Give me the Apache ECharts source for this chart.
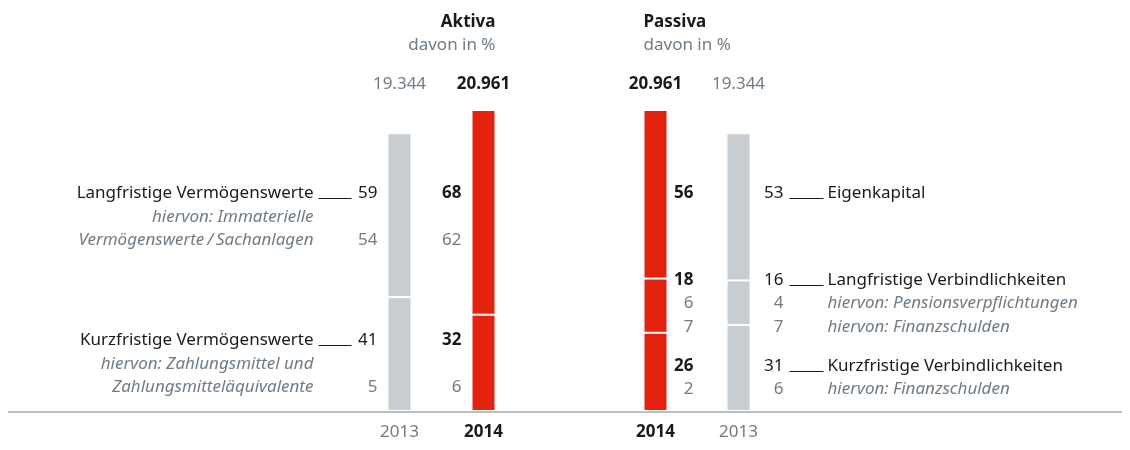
<!DOCTYPE html>
<html>
<head>
<meta charset="utf-8">
<script src="https://cdn.jsdelivr.net/npm/echarts@6.0.0/dist/echarts.min.js"></script>
<style>
  html, body { margin: 0; background: #fff; }
  #chart { width: 1130px; height: 450px; }
</style>
</head>
<body>
<div id="chart"></div>
<script>
// --- Daten (Mio. €, Anteile in %) ---
const aktivaYears = ['2013', '2014']
const aktivaTotals = [19344, 20961]
const aktivaLangfristig = [59, 68]
const aktivaImmateriell = [54, 62]
const aktivaKurzfristig = [41, 32]
const aktivaZahlungsmittel = [5, 6]

const passivaYears = ['2014', '2013']
const passivaTotals = [20961, 19344]
const passivaEigenkapital = [56, 53]
const passivaLangfristig = [18, 16]
const passivaPension = [6, 4]
const passivaFinanzLang = [7, 7]
const passivaKurzfristig = [26, 31]
const passivaFinanzKurz = [2, 6]

// Farben / Schrift
const RED = '#e3230f'
const GREY = '#c8cdd1'
const DARK = '#1a1a1a'
const MUTED = '#6f7c86'
const FONT = '"Noto Sans", sans-serif'
const FS = 17

const fmt = v => String(v).replace(/\B(?=(\d{3})+(?!\d))/g, '.')
const share = (totals, pct) => totals.map((t, i) => t * pct[i] / 100)
const isCurrent = y => y === '2014'

function axesFor(gridIndex, years, totals) {
  return [
    {
      type: 'category', gridIndex,
      data: years.map(y => ({
        value: y,
        textStyle: { color: isCurrent(y) ? DARK : MUTED, fontWeight: isCurrent(y) ? 'bold' : 'normal' },
      })),
      axisLine: { show: false }, axisTick: { show: false },
      axisLabel: { fontSize: FS, fontFamily: FONT, margin: 13 },
    },
    {
      type: 'category', gridIndex, position: 'top',
      data: totals.map((t, i) => ({
        value: fmt(t),
        textStyle: { color: isCurrent(years[i]) ? DARK : MUTED, fontWeight: isCurrent(years[i]) ? 'bold' : 'normal' },
      })),
      axisLine: { show: false }, axisTick: { show: false },
      axisLabel: { fontSize: FS, fontFamily: FONT, margin: 17 },
    },
  ]
}

function barSeries(name, axisIndex, years, totals, pct, stack) {
  return {
    name, type: 'bar', stack,
    xAxisIndex: axisIndex, yAxisIndex: axisIndex / 2,
    barWidth: 24,
    data: share(totals, pct).map((v, i) => ({
      value: v,
      itemStyle: { color: isCurrent(years[i]) ? RED : GREY },
    })),
    itemStyle: { borderColor: '#fff', borderWidth: 1 },
    silent: true,
  }
}

const chart = echarts.init(document.getElementById('chart'), null, { renderer: 'canvas' })

chart.setOption({
  animation: false,
  grid: [
    { left: 357.5, width: 168, top: 110, bottom: 39 },
    { left: 614, width: 166, top: 110, bottom: 39 },
  ],
  xAxis: [...axesFor(0, aktivaYears, aktivaTotals), ...axesFor(1, passivaYears, passivaTotals)],
  yAxis: [
    { type: 'value', gridIndex: 0, min: 0, max: 20961, show: false },
    { type: 'value', gridIndex: 1, min: 0, max: 20961, show: false },
  ],
  series: [
    barSeries('Kurzfristige Vermögenswerte', 0, aktivaYears, aktivaTotals, aktivaKurzfristig, 'aktiva'),
    barSeries('Langfristige Vermögenswerte', 0, aktivaYears, aktivaTotals, aktivaLangfristig, 'aktiva'),
    barSeries('Kurzfristige Verbindlichkeiten', 2, passivaYears, passivaTotals, passivaKurzfristig, 'passiva'),
    barSeries('Langfristige Verbindlichkeiten', 2, passivaYears, passivaTotals, passivaLangfristig, 'passiva'),
    barSeries('Eigenkapital', 2, passivaYears, passivaTotals, passivaEigenkapital, 'passiva'),
  ],
})

// --- Beschriftungen neben den Säulen ---
const text = (x, y, str, opts) => ({
  type: 'text', x, y, silent: true,
  style: {
    text: str,
    font: `${opts.italic ? 'italic ' : ''}${opts.bold ? 'bold ' : ''}${FS}px ${FONT}`,
    fill: opts.color || DARK,
    align: opts.align || 'left', textAlign: opts.align || 'left',
    verticalAlign: 'middle', textVerticalAlign: 'middle',
  },
})
const connector = (x1, x2, y) => ({
  type: 'line', silent: true,
  shape: { x1, y1: y, x2, y2: y },
  style: { stroke: DARK, lineWidth: 1 },
})

const colX = (axisIndex, year) => chart.convertToPixel({ xAxisIndex: axisIndex }, year)

const aktivaRows = [
  { y: 193, values: aktivaLangfristig, main: true },
  { y: 240, values: aktivaImmateriell },
  { y: 340, values: aktivaKurzfristig, main: true },
  { y: 387, values: aktivaZahlungsmittel },
]
const passivaRows = [
  { y: 193, values: passivaEigenkapital, main: true },
  { y: 280, values: passivaLangfristig, main: true },
  { y: 303, values: passivaPension },
  { y: 327, values: passivaFinanzLang },
  { y: 366, values: passivaKurzfristig, main: true },
  { y: 389, values: passivaFinanzKurz },
]
const leftLabels = [
  { y: 193, t: 'Langfristige Vermögenswerte', main: true },
  { y: 217, t: 'hiervon: Immaterielle' },
  { y: 240, t: 'Vermögenswerte\u2009/\u2009Sachanlagen' },
  { y: 340, t: 'Kurzfristige Vermögenswerte', main: true },
  { y: 364, t: 'hiervon: Zahlungsmittel und' },
  { y: 387, t: 'Zahlungsmitteläquivalente' },
]
const rightLabels = [
  { y: 193, t: 'Eigenkapital', main: true },
  { y: 280, t: 'Langfristige Verbindlichkeiten', main: true },
  { y: 303, t: 'hiervon: Pensionsverpflichtungen' },
  { y: 327, t: 'hiervon: Finanzschulden' },
  { y: 366, t: 'Kurzfristige Verbindlichkeiten', main: true },
  { y: 389, t: 'hiervon: Finanzschulden' },
]

const elements = []

// Überschriften: Aktiva rechtsbündig an der 2014-Säule, Passiva linksbündig
const aCur = colX(0, '2014')
const pCur = colX(2, '2014')
elements.push(text(aCur + 12, 22, 'Aktiva', { bold: true, align: 'right' }))
elements.push(text(aCur + 12, 45, 'davon in %', { color: MUTED, align: 'right' }))
elements.push(text(pCur - 12, 22, 'Passiva', { bold: true }))
elements.push(text(pCur - 12, 45, 'davon in %', { color: MUTED }))

const numberStyle = (row, year) => row.main
  ? { color: DARK, bold: isCurrent(year), align: 'right' }
  : { color: MUTED, align: 'right' }

aktivaYears.forEach((year, i) => {
  const x = colX(0, year) - 22
  aktivaRows.forEach(r => elements.push(text(x, r.y, String(r.values[i]), numberStyle(r, year))))
})
passivaYears.forEach((year, i) => {
  const x = colX(2, year) + (isCurrent(year) ? 38 : 45)
  passivaRows.forEach(r => elements.push(text(x, r.y, String(r.values[i]), numberStyle(r, year))))
})

const aLeft = colX(0, '2013')
leftLabels.forEach(l => {
  elements.push(text(aLeft - 86, l.y, l.t, { align: 'right', italic: !l.main, color: l.main ? DARK : MUTED }))
  if (l.main) elements.push(connector(aLeft - 81, aLeft - 48, l.y + 5.5))
})
const pRight = colX(2, '2013')
rightLabels.forEach(l => {
  elements.push(text(pRight + 89, l.y, l.t, { italic: !l.main, color: l.main ? DARK : MUTED }))
  if (l.main) elements.push(connector(pRight + 51, pRight + 85, l.y + 5.5))
})

// Grundlinie über die ganze Breite
const baseY = chart.convertToPixel({ yAxisIndex: 0 }, 0)
elements.push({
  type: 'line', silent: true,
  shape: { x1: 8, y1: baseY + 1, x2: 1122, y2: baseY + 1 },
  style: { stroke: '#a5aaad', lineWidth: 1.5 },
})

chart.setOption({ graphic: elements })
</script>
</body>
</html>
